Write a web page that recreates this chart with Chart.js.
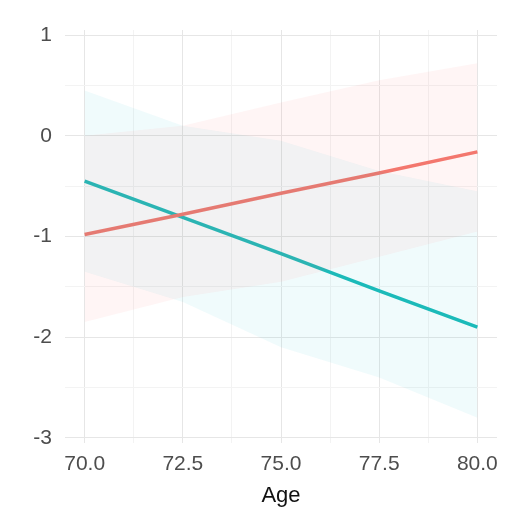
<!DOCTYPE html>
<html>
<head>
<meta charset="utf-8">
<script src="https://cdn.jsdelivr.net/npm/chart.js@4.4.1/dist/chart.umd.min.js"></script>
<style>
  html, body { margin: 0; padding: 0; background: #fff; }
  #wrap { width: 512px; height: 519px; }
</style>
</head>
<body>
<div id="wrap"><canvas id="chart"></canvas></div>
<script>
// ages where the fitted lines / bands are read
const ages = [70, 72.5, 75, 77.5, 80];

// group 1 (red)
const redFit = [-0.98, -0.78, -0.57, -0.37, -0.16];
const redLow = [-1.85, -1.6, -1.45, -1.2, -0.95];
const redHigh = [0.0, 0.1, 0.33, 0.55, 0.72];

// group 2 (teal)
const tealFit = [-0.45, -0.81, -1.17, -1.54, -1.9];
const tealLow = [-1.35, -1.65, -2.1, -2.4, -2.8];
const tealHigh = [0.45, 0.1, -0.05, -0.35, -0.55];

const xTicks = [70, 71.25, 72.5, 73.75, 75, 76.25, 77.5, 78.75, 80];
const yTicks = [-3, -2.5, -2, -1.5, -1, -0.5, 0, 0.5, 1];

const RED = '#F3786E';
const TEAL = '#1DBAB8';

const pts = arr => arr.map((v, i) => ({ x: ages[i], y: v }));
const major = '#e6e6e6';
const minor = '#f3f3f3';

const band = (data, color, fill) => ({
  data: pts(data),
  borderColor: 'rgba(0,0,0,0)',
  borderWidth: 0,
  pointRadius: 0,
  backgroundColor: color,
  fill: fill
});

const ctx = document.getElementById('chart').getContext('2d');
new Chart(ctx, {
  type: 'line',
  data: {
    datasets: [
      band(redLow, 'rgba(248,118,109,0.07)', false),
      band(redHigh, 'rgba(248,118,109,0.07)', '-1'),
      band(tealLow, 'rgba(0,191,196,0.06)', false),
      band(tealHigh, 'rgba(0,191,196,0.06)', '-1'),
      { data: pts(redFit), borderColor: RED, borderWidth: 3.5, pointRadius: 0, fill: false },
      { data: pts(tealFit), borderColor: TEAL, borderWidth: 3.5, pointRadius: 0, fill: false }
    ]
  },
  options: {
    responsive: true,
    maintainAspectRatio: false,
    animation: false,
    layout: { padding: { top: 30, right: 15, left: 0, bottom: 0 } },
    plugins: { legend: { display: false }, tooltip: { enabled: false } },
    scales: {
      x: {
        type: 'linear',
        min: 69.5,
        max: 80.5,
        afterBuildTicks: s => { s.ticks = xTicks.map(v => ({ value: v })); },
        afterFit: s => { s.height = 76; },
        border: { display: false },
        grid: {
          drawTicks: false,
          color: c => (c.tick && c.tick.value % 2.5 === 0 ? major : minor)
        },
        ticks: {
          autoSkip: false,
          maxRotation: 0,
          padding: 9,
          color: '#4d4d4d',
          font: { family: 'Liberation Sans', size: 21 },
          callback: v => (v % 2.5 === 0 ? v.toFixed(1) : '')
        },
        title: {
          display: true,
          text: 'Age',
          color: '#111',
          font: { family: 'Liberation Sans', size: 22 },
          padding: { top: 0, bottom: 10 }
        }
      },
      y: {
        min: -3.05,
        max: 1.05,
        afterBuildTicks: s => { s.ticks = yTicks.map(v => ({ value: v })); },
        afterFit: s => { s.width = 65; },
        border: { display: false },
        grid: {
          drawTicks: false,
          color: c => (c.tick && Number.isInteger(c.tick.value) ? major : minor)
        },
        ticks: {
          padding: 13,
          color: '#4d4d4d',
          font: { family: 'Liberation Sans', size: 21 },
          callback: v => (Number.isInteger(v) ? String(v) : '')
        }
      }
    }
  }
});
</script>
</body>
</html>
